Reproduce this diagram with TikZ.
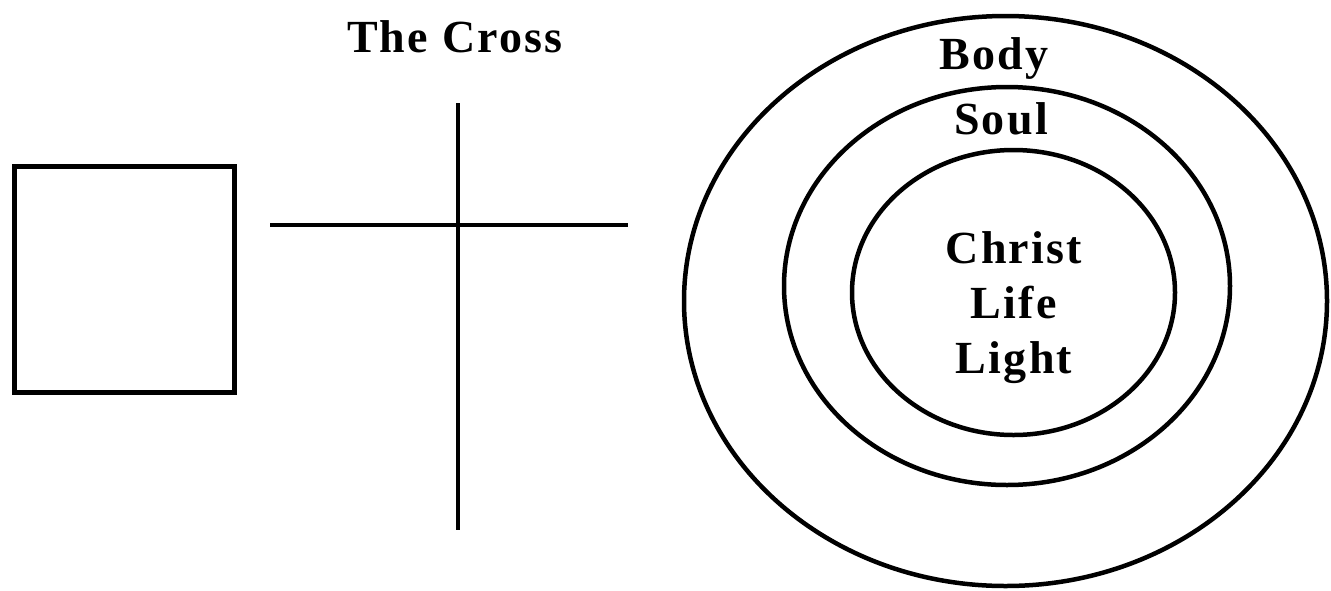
\documentclass[tikz,border=0pt]{standalone}
\usepackage{fontspec}
\setmainfont{Liberation Serif}
\newfontfamily\lblfont[LetterSpace=5]{Liberation Serif}
\tikzset{
  lbl/.style={font=\lblfont\fontsize{46}{55}\selectfont\bfseries, anchor=base, inner sep=0pt},
  ring/.style={draw=black, line width=4.5pt},
  crossline/.style={draw=black, line width=3.5pt},
  boxline/.style={draw=black, line width=5pt}
}
\begin{document}
\begin{tikzpicture}[x=1pt,y=-1pt]
\useasboundingbox (0,0) rectangle (1331,590);
% square
\draw[boxline] (14,166) rectangle (234,392);
% cross
\coordinate (hl) at (270,225);
\coordinate (hr) at (628,225);
\coordinate (vt) at (458,103);
\coordinate (vb) at (458,530);
\draw[crossline] (hl) -- (hr);
\draw[crossline] (vt) -- (vb);
\node[lbl] (title) at (455,52) {The Cross};
% rings
\draw[ring] (1005.5,301) ellipse [x radius=321.5, y radius=285];
\draw[ring] (1007,286) ellipse [x radius=223, y radius=199];
\draw[ring] (1013.5,292.5) ellipse [x radius=161.5, y radius=142.5];
\node[lbl] (body) at (994,69) {Body};
\node[lbl] (soul) at (1001,134) {Soul};
\node[lbl] (christ) at (1014,263) {Christ};
\node[lbl] (life) at (1014,318) {Life};
\node[lbl] (light) at (1014,373) {Light};
\end{tikzpicture}
\end{document}
